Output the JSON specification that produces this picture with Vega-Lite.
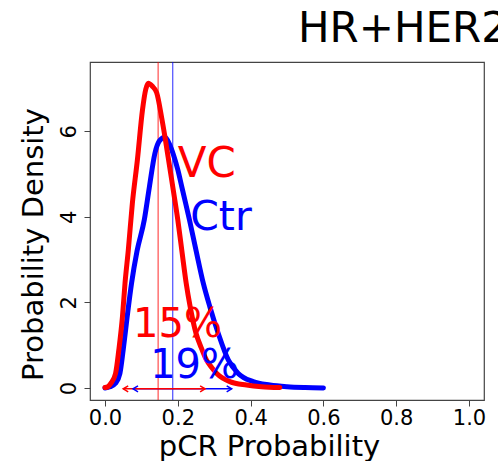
{
  "$schema": "https://vega.github.io/schema/vega-lite/v6.json",
  "autosize": {"type": "none"},
  "width": 394,
  "height": 338,
  "padding": {"left": 90, "top": 62, "right": 14, "bottom": 61},
  "background": "white",
  "config": {
    "font": "DejaVu Sans",
    "view": {"stroke": "#444", "strokeWidth": 1.2}
  },
  "title": {
    "text": "HR+HER2",
    "anchor": "start",
    "frame": "group",
    "dx": 208,
    "dy": -6,
    "fontSize": 42,
    "fontWeight": "normal",
    "color": "black",
    "font": "DejaVu Sans"
  },
  "datasets": {
    "curves": [
      {"group": "Ctr", "x": 0.0, "y": 0},
      {"group": "Ctr", "x": 0.014, "y": 0.03},
      {"group": "Ctr", "x": 0.029, "y": 0.11},
      {"group": "Ctr", "x": 0.041, "y": 0.34},
      {"group": "Ctr", "x": 0.05, "y": 0.89},
      {"group": "Ctr", "x": 0.061, "y": 1.67},
      {"group": "Ctr", "x": 0.073, "y": 2.45},
      {"group": "Ctr", "x": 0.088, "y": 3.2},
      {"group": "Ctr", "x": 0.108, "y": 3.93},
      {"group": "Ctr", "x": 0.122, "y": 4.7},
      {"group": "Ctr", "x": 0.137, "y": 5.48},
      {"group": "Ctr", "x": 0.15, "y": 5.78},
      {"group": "Ctr", "x": 0.165, "y": 5.86},
      {"group": "Ctr", "x": 0.177, "y": 5.7},
      {"group": "Ctr", "x": 0.188, "y": 5.45},
      {"group": "Ctr", "x": 0.2, "y": 5.1},
      {"group": "Ctr", "x": 0.211, "y": 4.7},
      {"group": "Ctr", "x": 0.222, "y": 4.3},
      {"group": "Ctr", "x": 0.232, "y": 3.93},
      {"group": "Ctr", "x": 0.25, "y": 3.22},
      {"group": "Ctr", "x": 0.27, "y": 2.45},
      {"group": "Ctr", "x": 0.288, "y": 1.9},
      {"group": "Ctr", "x": 0.311, "y": 1.28},
      {"group": "Ctr", "x": 0.339, "y": 0.65},
      {"group": "Ctr", "x": 0.366, "y": 0.34},
      {"group": "Ctr", "x": 0.407, "y": 0.15},
      {"group": "Ctr", "x": 0.453, "y": 0.07},
      {"group": "Ctr", "x": 0.5, "y": 0.03},
      {"group": "Ctr", "x": 0.55, "y": 0.01},
      {"group": "Ctr", "x": 0.6, "y": 0},
      {"group": "VC", "x": 0.0, "y": 0.01},
      {"group": "VC", "x": 0.008, "y": 0.03},
      {"group": "VC", "x": 0.016, "y": 0.11},
      {"group": "VC", "x": 0.029, "y": 0.34},
      {"group": "VC", "x": 0.038, "y": 0.89},
      {"group": "VC", "x": 0.048, "y": 1.67},
      {"group": "VC", "x": 0.055, "y": 2.45},
      {"group": "VC", "x": 0.064, "y": 3.22},
      {"group": "VC", "x": 0.075, "y": 4.3},
      {"group": "VC", "x": 0.089, "y": 5.33},
      {"group": "VC", "x": 0.103, "y": 6.5},
      {"group": "VC", "x": 0.112, "y": 6.98},
      {"group": "VC", "x": 0.119, "y": 7.12},
      {"group": "VC", "x": 0.13, "y": 7.05},
      {"group": "VC", "x": 0.142, "y": 6.9},
      {"group": "VC", "x": 0.156, "y": 6.3},
      {"group": "VC", "x": 0.166, "y": 5.8},
      {"group": "VC", "x": 0.177, "y": 5.2},
      {"group": "VC", "x": 0.188, "y": 4.6},
      {"group": "VC", "x": 0.2, "y": 3.93},
      {"group": "VC", "x": 0.212, "y": 3.15},
      {"group": "VC", "x": 0.223, "y": 2.45},
      {"group": "VC", "x": 0.234, "y": 1.9},
      {"group": "VC", "x": 0.25, "y": 1.28},
      {"group": "VC", "x": 0.264, "y": 0.95},
      {"group": "VC", "x": 0.279, "y": 0.65},
      {"group": "VC", "x": 0.293, "y": 0.48},
      {"group": "VC", "x": 0.307, "y": 0.34},
      {"group": "VC", "x": 0.343, "y": 0.15},
      {"group": "VC", "x": 0.389, "y": 0.07},
      {"group": "VC", "x": 0.43, "y": 0.03},
      {"group": "VC", "x": 0.48, "y": 0.01}
    ],
    "vlines": [
      {"group": "VC", "x": 0.146},
      {"group": "Ctr", "x": 0.186}
    ],
    "intervals": [
      {"group": "Ctr", "lo": 0.077, "hi": 0.348, "y": -0.02},
      {"group": "VC", "lo": 0.05, "hi": 0.275, "y": -0.02}
    ],
    "labels": [
      {"group": "VC", "text": "VC", "x": 0.2, "y": 4.93, "size": 42},
      {"group": "Ctr", "text": "Ctr", "x": 0.234, "y": 3.69, "size": 41},
      {"group": "VC", "text": "15%", "x": 0.077, "y": 1.19, "size": 40},
      {"group": "Ctr", "text": "19%", "x": 0.124, "y": 0.23, "size": 40}
    ]
  },
  "layer": [
    {
      "mark": {"type": "rule", "color": "#d3d3d3", "strokeWidth": 2},
      "encoding": {
        "y": {
          "datum": 0,
          "type": "quantitative",
          "scale": {"domain": [-0.28, 7.617], "nice": false, "zero": false},
          "axis": {
            "values": [0, 2, 4, 6],
            "format": "d",
            "title": "Probability Density",
            "grid": false,
            "domain": false,
            "ticks": true,
            "tickSize": 6,
            "tickColor": "#444",
            "labelAngle": -90,
            "labelAlign": "center",
            "labelBaseline": "alphabetic",
            "labelPadding": 9,
            "labelFontSize": 21,
            "labelColor": "black",
            "labelFont": "DejaVu Sans",
            "titleFontSize": 29,
            "titleFontWeight": "normal",
            "titleFont": "DejaVu Sans",
            "titleColor": "black",
            "titleAngle": -90,
            "titleAlign": "center",
            "titleBaseline": "alphabetic",
            "titleX": -48,
            "titleY": 182
          }
        }
      }
    },
    {
      "data": {"name": "vlines"},
      "mark": {"type": "rule", "strokeWidth": 1.3, "opacity": 0.65},
      "encoding": {
        "x": {
          "field": "x",
          "type": "quantitative",
          "scale": {"domain": [-0.0412, 1.0412], "nice": false, "zero": false},
          "axis": {
            "values": [0, 0.2, 0.4, 0.6, 0.8, 1.0],
            "format": ".1f",
            "title": "pCR Probability",
            "grid": false,
            "domain": false,
            "ticks": true,
            "tickSize": 6,
            "tickColor": "#444",
            "labelPadding": 1,
            "labelFontSize": 21,
            "labelColor": "black",
            "labelFont": "DejaVu Sans",
            "titleFontSize": 29,
            "titleFontWeight": "normal",
            "titleFont": "DejaVu Sans",
            "titleColor": "black",
            "titleAlign": "center",
            "titleBaseline": "alphabetic",
            "titleX": 179,
            "titleY": 55
          }
        },
        "color": {
          "field": "group",
          "type": "nominal",
          "scale": {"domain": ["VC", "Ctr"], "range": ["#ff0000", "#0000ff"]},
          "legend": null
        }
      }
    },
    {
      "data": {"name": "curves"},
      "mark": {"type": "line", "strokeWidth": 5, "strokeCap": "round", "strokeJoin": "round", "interpolate": "monotone"},
      "encoding": {
        "x": {"field": "x", "type": "quantitative"},
        "y": {"field": "y", "type": "quantitative"},
        "color": {"field": "group", "type": "nominal", "legend": null},
        "order": {"field": "x", "type": "quantitative"},
        "detail": {"field": "group"}
      }
    },
    {
      "data": {"name": "intervals"},
      "mark": {"type": "rule", "strokeWidth": 1.5},
      "encoding": {
        "x": {"field": "lo", "type": "quantitative"},
        "x2": {"field": "hi"},
        "y": {"field": "y", "type": "quantitative"},
        "color": {"field": "group", "type": "nominal", "legend": null}
      }
    },
    {
      "data": {"name": "intervals"},
      "mark": {"type": "point", "shape": "M1,-0.6L0,0L1,0.6", "filled": false, "size": 100, "strokeWidth": 1.5, "opacity": 1},
      "encoding": {
        "x": {"field": "lo", "type": "quantitative"},
        "y": {"field": "y", "type": "quantitative"},
        "color": {"field": "group", "type": "nominal", "legend": null}
      }
    },
    {
      "data": {"name": "intervals"},
      "mark": {"type": "point", "shape": "M-1,-0.6L0,0L-1,0.6", "filled": false, "size": 100, "strokeWidth": 1.5, "opacity": 1},
      "encoding": {
        "x": {"field": "hi", "type": "quantitative"},
        "y": {"field": "y", "type": "quantitative"},
        "color": {"field": "group", "type": "nominal", "legend": null}
      }
    },
    {
      "data": {"name": "labels"},
      "mark": {"type": "text", "align": "left", "baseline": "alphabetic", "font": "DejaVu Sans"},
      "encoding": {
        "x": {"field": "x", "type": "quantitative"},
        "y": {"field": "y", "type": "quantitative"},
        "text": {"field": "text"},
        "size": {"field": "size", "type": "quantitative", "scale": null},
        "color": {"field": "group", "type": "nominal", "legend": null}
      }
    }
  ]
}
